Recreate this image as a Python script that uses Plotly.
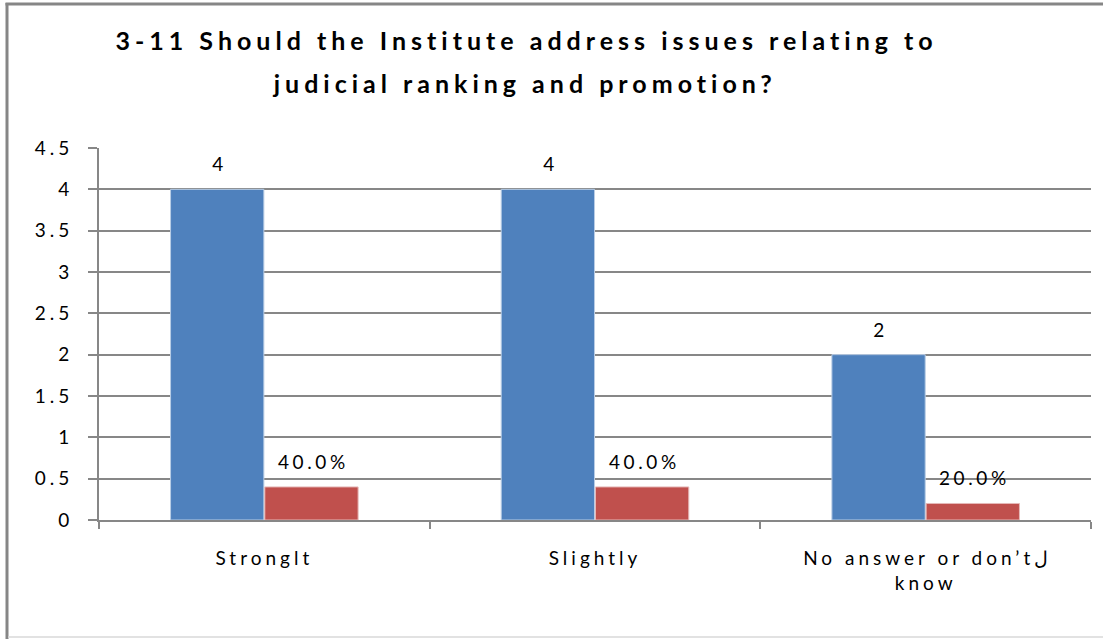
import plotly.graph_objects as go

# Survey question 3-11: counts and shares per answer
categories = ["Stronglt", "Slightly", "No answer or don\u2019t\u0644<br>know"]
counts = [4, 4, 2]
shares = [0.4, 0.4, 0.2]
count_labels = ["4", "4", "2"]
share_labels = ["40.0%", "40.0%", "20.0%"]
y_ticks = [0, 0.5, 1, 1.5, 2, 2.5, 3, 3.5, 4, 4.5]
y_tick_text = ["0", "0.5", "1", "1.5", "2", "2.5", "3", "3.5", "4", "4.5"]

BLUE = "#4F81BD"
RED = "#C0504D"
GRID = "#878787"
FONT = "Lato"
TICK_SIZE = 19

# plot-area edges in pixels
L, R, T, B = 99, 1091, 148, 520

def px_to_paper_x(px):
    return (px - L) / (R - L)

def px_to_paper_y(py):
    return (B - py) / (B - T)

fig = go.Figure()
fig.add_trace(go.Bar(x=categories, y=counts, marker=dict(color=BLUE, line=dict(color="#B9CDE5", width=1)),
                     name="Count", hoverinfo="y"))
fig.add_trace(go.Bar(x=categories, y=shares, marker=dict(color=RED, line=dict(color="#E6B9B8", width=1)),
                     name="Share", hoverinfo="y"))

# value labels placed above each bar
annotations = []
for cat, v, t in zip(categories, counts, count_labels):
    annotations.append(dict(x=cat, y=v, xref="x", yref="y", text=t, showarrow=False,
                            yanchor="bottom", xshift=-45, yshift=12,
                            font=dict(family=FONT, size=TICK_SIZE, color="#000000")))
for cat, v, t in zip(categories, shares, share_labels):
    annotations.append(dict(x=cat, y=v, xref="x", yref="y", text=t, showarrow=False,
                            yanchor="bottom", xshift=49, yshift=12,
                            font=dict(family=FONT, size=TICK_SIZE, color="#000000")))

# two-line bold title
title_font = dict(family=FONT, size=25, color="#000000", weight="bold")
annotations.append(dict(x=px_to_paper_x(526), y=px_to_paper_y(40), xref="paper", yref="paper",
                        text="3-11 Should the Institute address issues relating to",
                        showarrow=False, xanchor="center", yanchor="middle", font=title_font))
annotations.append(dict(x=px_to_paper_x(524), y=px_to_paper_y(83), xref="paper", yref="paper",
                        text="judicial ranking and promotion?",
                        showarrow=False, xanchor="center", yanchor="middle", font=title_font))

fig.update_layout(
    width=1103, height=639,
    margin=dict(l=L, r=1103 - R, t=T, b=639 - B),
    paper_bgcolor="white", plot_bgcolor="white",
    barmode="group", bargap=0.43, bargroupgap=0.01,
    showlegend=False,
    annotations=annotations,
    font=dict(family=FONT, size=TICK_SIZE, color="#000000"),
    xaxis=dict(showline=True, linecolor=GRID, linewidth=2, ticks="outside", tickson="boundaries",
               ticklen=7, tickwidth=2, tickcolor=GRID, showgrid=False,
               tickfont=dict(family=FONT, size=TICK_SIZE, color="#000000"), ticklabelstandoff=20),
    yaxis=dict(range=[0, 4.5], tickvals=y_ticks, ticktext=y_tick_text, showline=True, linecolor=GRID,
               linewidth=2, ticks="outside", ticklen=9, tickwidth=2, tickcolor=GRID,
               showgrid=True, gridcolor=GRID, gridwidth=2, zeroline=False,
               tickfont=dict(family=FONT, size=TICK_SIZE, color="#000000"), ticklabelstandoff=11),
)

# chart frame
fig.add_shape(type="line", xref="paper", yref="paper", x0=px_to_paper_x(7), x1=px_to_paper_x(7),
              y0=px_to_paper_y(3), y1=px_to_paper_y(639), line=dict(color="#868686", width=3))
fig.add_shape(type="line", xref="paper", yref="paper", x0=px_to_paper_x(5.5), x1=px_to_paper_x(1110),
              y0=px_to_paper_y(4), y1=px_to_paper_y(4), line=dict(color="#868686", width=3))
fig.add_shape(type="line", xref="paper", yref="paper", x0=px_to_paper_x(8), x1=px_to_paper_x(1110),
              y0=px_to_paper_y(637), y1=px_to_paper_y(637), line=dict(color="#D9D9D9", width=1.5))

# widen the character spacing of all chart text
spacing_css = (
    ".xtick text, .ytick text { letter-spacing: 4px; }"
    " .annotation-text { letter-spacing: 3.6px; }"
    " g.annotation[data-index='6'] .annotation-text,"
    " g.annotation[data-index='7'] .annotation-text { letter-spacing: 5px; }"
)
post_js = (
    "var s = document.createElement('style');"
    f"s.textContent = \"{spacing_css}\";"
    "document.head.appendChild(s);"
)

fig.write_html("out.html", post_script=post_js)
